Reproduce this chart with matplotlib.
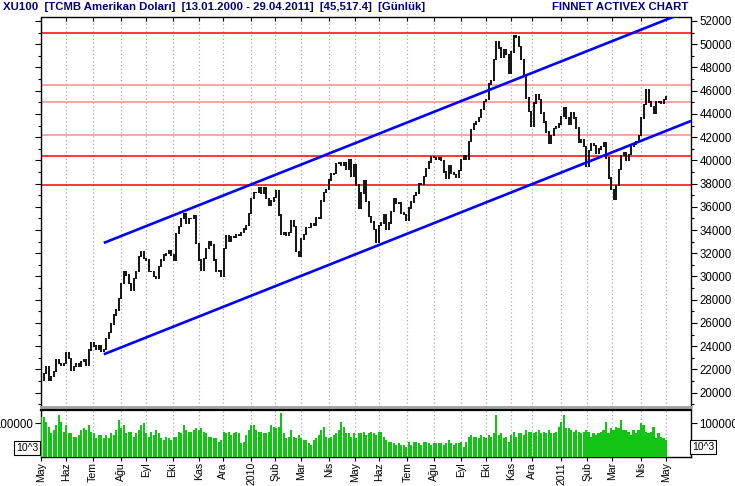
import numpy as np
import matplotlib
matplotlib.use('Agg')
import matplotlib.pyplot as plt

plt.rcParams['font.family'] = ['Liberation Sans', 'DejaVu Sans']

# Closing values, one every 2 trading days (May 2009 - Apr 2011)
close = [
    21080, 21654, 22228, 21080, 21367, 21797, 22802, 22515, 22371, 22515,
    23434, 22946, 21941, 22228, 22458, 22285, 22659, 22802, 22371, 23663,
    24295, 24008, 23721, 24008, 23520, 23721, 24668, 25156, 25903, 26678,
    27109, 28114, 29405, 30410, 30123, 29405, 28831, 29836, 30410, 31702,
    32133, 31559, 31415, 30410, 30410, 29980, 29836, 30841, 31415, 31846,
    31990, 32219, 31846, 31415, 33712, 34286, 35004, 35377, 34573, 35004,
    35004, 35205, 32851, 31415, 30554,
    31559, 32420, 32994, 32707, 31415, 30410, 30468, 30037, 32420, 33511,
    33052, 33425, 33339, 33568, 33568, 33798, 34085, 34372, 35434, 36726,
    37243, 37243, 37645, 37157, 37645, 36726, 36095, 36497, 36813, 37358,
    35291, 33626, 33798, 33511, 33798, 34774, 34286, 32133, 31702, 33224,
    33626, 34200, 34200, 34544, 34430, 35061, 35004, 36497, 37214, 37501,
    38305, 38822, 38880, 39741, 39827, 39540, 39827, 39253, 40028, 38592,
    39597, 37875, 35865,
    37185, 38248, 36468, 35176, 34688, 34027, 32900, 34400, 34602, 35319,
    34027, 34602, 35606, 36697, 36324, 36324, 35463, 35319, 34803, 35894,
    36410, 36985, 37185, 37989, 37903, 38621, 39281, 39855, 40344, 40258,
    40114, 40258, 39971, 38994, 38478, 39568, 38908, 38765, 38564, 39109,
    40057, 40430, 40114, 41636, 42640, 43129, 43330, 43703, 44363, 45081,
    45224, 46574, 46890, 48670, 50249, 49674, 48871, 49531, 49100, 47521,
    49330, 50765, 50622, 49818, 48669, 47234, 45368, 44220, 42927, 44937,
    45655, 45224, 44076, 43301, 42440, 41492, 42152, 42727, 42870, 43129,
    43789, 44507, 43645, 43071, 44076, 43645, 42784, 41578, 41779, 41205,
    39482, 40832, 41406, 41291, 40631, 40975, 41176, 41492, 40200, 38477,
    37473, 36611, 37846, 39195, 40401, 40631, 39971, 40487, 41176, 41406,
    41636, 42152, 43645, 44794, 46085, 45023, 44650, 44076, 45023, 45023,
    44937, 45224, 45511,
]

# Volume (thousands), same sampling
volume_k = [
    120, 120, 105, 90, 70, 80, 95, 125, 105, 75,
    95, 70, 70, 60, 60, 65, 80, 85, 80, 95,
    75, 70, 55, 65, 65, 55, 65, 55, 70, 65,
    80, 110, 85, 95, 70, 75, 75, 60, 70, 80,
    95, 100, 70, 60, 75, 65, 80, 70, 55, 50,
    60, 55, 50, 60, 60, 75, 70, 95, 80, 75,
    75, 80, 85, 80, 85, 75, 70, 60, 60, 55,
    55, 45, 50, 75, 70, 75, 65, 70, 75, 70,
    40, 45, 65, 80, 95, 95, 80, 75, 75, 70,
    70, 75, 95, 90, 85, 90, 130, 70, 55, 60,
    80, 60, 55, 65, 55, 50, 50, 40, 35, 50,
    55, 65, 80, 90, 60, 55, 60, 65, 70, 80,
    105, 90, 70, 70, 60, 70, 55, 70, 70, 75,
    65,
    70, 75, 70, 65, 75, 75, 60, 50, 45, 45,
    40, 35, 40, 35, 35, 30, 45, 35, 45, 45,
    40, 35, 45, 45, 40, 35, 40, 40, 40, 40,
    35, 40, 50, 40, 35, 40, 40, 45, 30, 45,
    60, 65, 60, 60, 55, 65, 60, 55, 65, 60,
    70, 125, 65, 70, 55, 60, 45, 65, 75, 60,
    70, 70, 65, 80, 75, 75, 70, 75, 80, 70,
    75, 70, 80, 70, 70, 75, 90, 105, 125, 85,
    85, 80, 75, 80, 75, 70, 75, 80, 75, 60,
    70, 65, 70, 75, 80, 105, 70, 85, 80, 90,
    85, 110, 80, 80, 75, 65, 80, 70, 80, 100,
    95, 75, 70, 75, 90, 55, 70, 60, 55, 50,
]

month_pos = [0, 20, 41, 64, 84, 105, 126, 145, 168, 187, 208, 230, 251,
             270, 293, 314, 336, 356, 376, 393, 416, 437, 457, 480, 500]
month_labels = ["May", "Haz", "Tem", "Ağu", "Eyl", "Eki", "Kas", "Ara", "2010",
                "Şub", "Mar", "Nis", "May", "Haz", "Tem", "Ağu", "Eyl", "Eki",
                "Kas", "Ara", "2011", "Şub", "Mar", "Nis", "May"]

h_levels = [51000, 46460, 45020, 42155, 40350, 37875]
h_colors = ['#FF0000', '#FF8C8C', '#FF8C8C', '#FF8C8C', '#FF0000', '#FF0000']

chan_x = [50, 520]
chan_upper = [32890, 52960]
chan_lower = [23300, 43390]

price_ticks = list(range(20000, 52001, 2000))

fig = plt.figure(figsize=(7.35, 4.86), dpi=100)
W, H = 735.0, 486.0
ax = fig.add_axes([41 / W, 1 - 407 / H, 650 / W, (407 - 17.5) / H])
axv = fig.add_axes([41 / W, 1 - 456.5 / H, 650 / W, (456.5 - 409.5) / H])

x = np.arange(len(close)) * 2
c = np.array(close, dtype=float)

# horizontal levels
for lv, col in zip(h_levels, h_colors):
    ax.axhline(lv, color=col, lw=1.1, zorder=2)

# price bars (vertical segments between consecutive closes)
lo = np.minimum(c[:-1], c[1:])
hi = np.maximum(c[:-1], c[1:])
ax.vlines(x[1:], lo - 60, hi + 60, color='black', lw=1.3, zorder=4)

# channel lines
ax.plot(chan_x, chan_upper, color='#0000FF', lw=1.9, zorder=5, solid_capstyle='butt')
ax.plot(chan_x, chan_lower, color='#0000FF', lw=1.9, zorder=5, solid_capstyle='butt')

ax.set_xlim(-0.3, 520)
ax.set_ylim(18760, 52300)
ax.set_xticks(month_pos)
ax.set_xticklabels([])
ax.grid(axis='x', color='#A8A8A8', linestyle=(0, (1, 2)), lw=0.9)
ax.set_yticks(price_ticks)
ax.set_yticks(list(range(19000, 52001, 2000)), minor=True)
ax.yaxis.tick_right()
ax.tick_params(axis='y', which='major', right=True, left=True, direction='out',
               length=4, width=0.8, labelsize=8.3, pad=2, labelright=True, labelleft=False)
ax.tick_params(axis='y', which='minor', right=True, left=True, direction='out', length=2.5, width=0.8)
ax.tick_params(axis='x', which='major', bottom=False, top=True, direction='in', length=3)
ax.set_yticklabels([str(v) for v in price_ticks])
for s in ['left', 'right', 'top']:
    ax.spines[s].set_color('black')
    ax.spines[s].set_linewidth(1.0)
ax.spines['bottom'].set_color('#A0A0A0')
ax.spines['bottom'].set_linewidth(2.0)

# volume
v = np.array(volume_k, dtype=float) * 1000
axv.bar(x, v, width=1.7, color='#14C414', edgecolor='none', align='center', zorder=3)
axv.set_xlim(-0.3, 520)
axv.set_ylim(0, 142000)
axv.set_xticks(month_pos)
axv.set_xticklabels(month_labels, rotation=90, fontsize=7.6)
axv.grid(axis='x', color='#A8A8A8', linestyle=(0, (1, 2)), lw=0.9)
axv.set_yticks([100000])
axv.set_yticklabels(['100000'])
axv.tick_params(axis='y', left=True, right=True, labelleft=True, labelright=True,
                direction='out', length=4, labelsize=8.3, pad=2)
axv.tick_params(axis='x', direction='out', length=3, pad=1)
for s in ['left', 'right', 'bottom']:
    axv.spines[s].set_linewidth(1.0)
axv.spines['top'].set_linewidth(1.6)

# 10^3 boxes
box = dict(boxstyle='square,pad=0.15', fc='white', ec='black', lw=0.8)
fig.text(27 / W, 1 - 448 / H, '10^3', fontsize=7.5, ha='center', va='center', bbox=box)
fig.text(703 / W, 1 - 447 / H, '10^3', fontsize=7.5, ha='center', va='center', bbox=box)

# header
fig.text(3 / W, 1 - 7.5 / H,
         'XU100  [TCMB Amerikan Doları]  [13.01.2000 - 29.04.2011]  [45,517.4]  [Günlük]',
         color='#000080', fontsize=8.2, fontweight='bold', ha='left', va='center')
fig.text(688 / W, 1 - 7.5 / H, 'FINNET ACTIVEX CHART',
         color='#000080', fontsize=8.2, fontweight='bold', ha='right', va='center')

fig.savefig('out.png', dpi=100)
